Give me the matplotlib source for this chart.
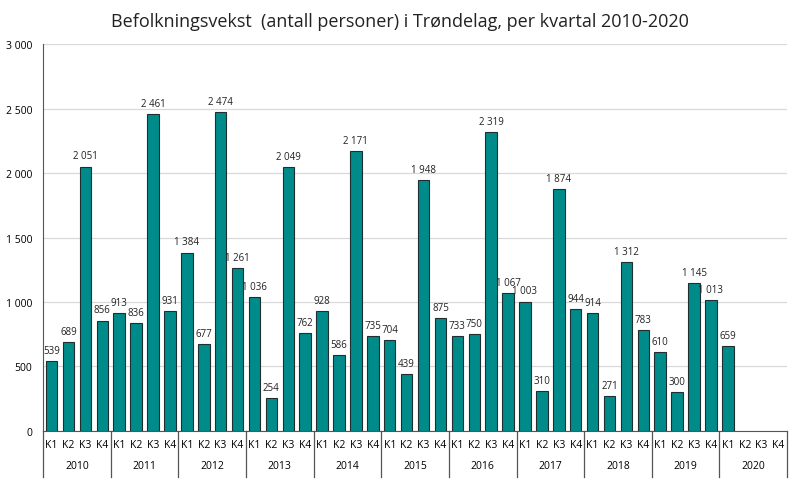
import matplotlib.pyplot as plt
import numpy as np

years = ["2010", "2011", "2012", "2013", "2014", "2015", "2016", "2017", "2018", "2019", "2020"]
quarters = ["K1", "K2", "K3", "K4"]
values = [
    539, 689, 2051, 856,
    913, 836, 2461, 931,
    1384, 677, 2474, 1261,
    1036, 254, 2049, 762,
    928, 586, 2171, 735,
    704, 439, 1948, 875,
    733, 750, 2319, 1067,
    1003, 310, 1874, 944,
    914, 271, 1312, 783,
    610, 300, 1145, 1013,
    659,
]

def fmt(v):
    return f"{v:,.0f}".replace(",", " ")

plt.rcParams['font.family'] = ['Open Sans', 'DejaVu Sans']

fig = plt.figure(figsize=(7.99, 4.81), dpi=100)
ax = fig.add_axes([0.054, 0.102, 0.931, 0.804])

n_slots = len(years) * len(quarters)
x = np.arange(len(values))
ax.bar(x, values, width=0.68, color="#008b8b", edgecolor="#1f2f2f", linewidth=0.8, zorder=3)

for xi, v in zip(x, values):
    ax.text(xi, v + 40, fmt(v), ha="center", va="bottom", fontsize=7, color="#222222")

ax.set_xlim(-0.5, n_slots - 0.5)
ax.set_ylim(0, 3000)
yt = np.arange(0, 3001, 500)
ax.set_yticks(yt)
ax.set_yticklabels([fmt(t) for t in yt], fontsize=7.5)
ax.tick_params(axis="y", length=0, pad=8)
ax.yaxis.grid(True, color="#d9d9d9", linewidth=0.9, zorder=0)
ax.set_axisbelow(True)

ax.set_xticks([])
for s in ["top", "right"]:
    ax.spines[s].set_visible(False)
ax.spines["left"].set_color("#555555")
ax.spines["bottom"].set_color("#555555")

trans = ax.get_xaxis_transform()
for i in range(n_slots):
    ax.text(i, -0.035, quarters[i % 4], transform=trans, ha="center", va="center", fontsize=7.5)
for g, yr in enumerate(years):
    ax.text(g * 4 + 1.5, -0.09, yr, transform=trans, ha="center", va="center", fontsize=7.5)
for g in range(len(years) + 1):
    ax.plot([g * 4 - 0.5, g * 4 - 0.5], [0, -0.12], transform=trans, color="#555555",
            linewidth=0.9, clip_on=False)

fig.text(0.5, 0.955, "Befolkningsvekst  (antall personer) i Trøndelag, per kvartal 2010-2020",
         ha="center", va="center", fontsize=13, color="#222222")

fig.savefig("out.png", dpi=100)
